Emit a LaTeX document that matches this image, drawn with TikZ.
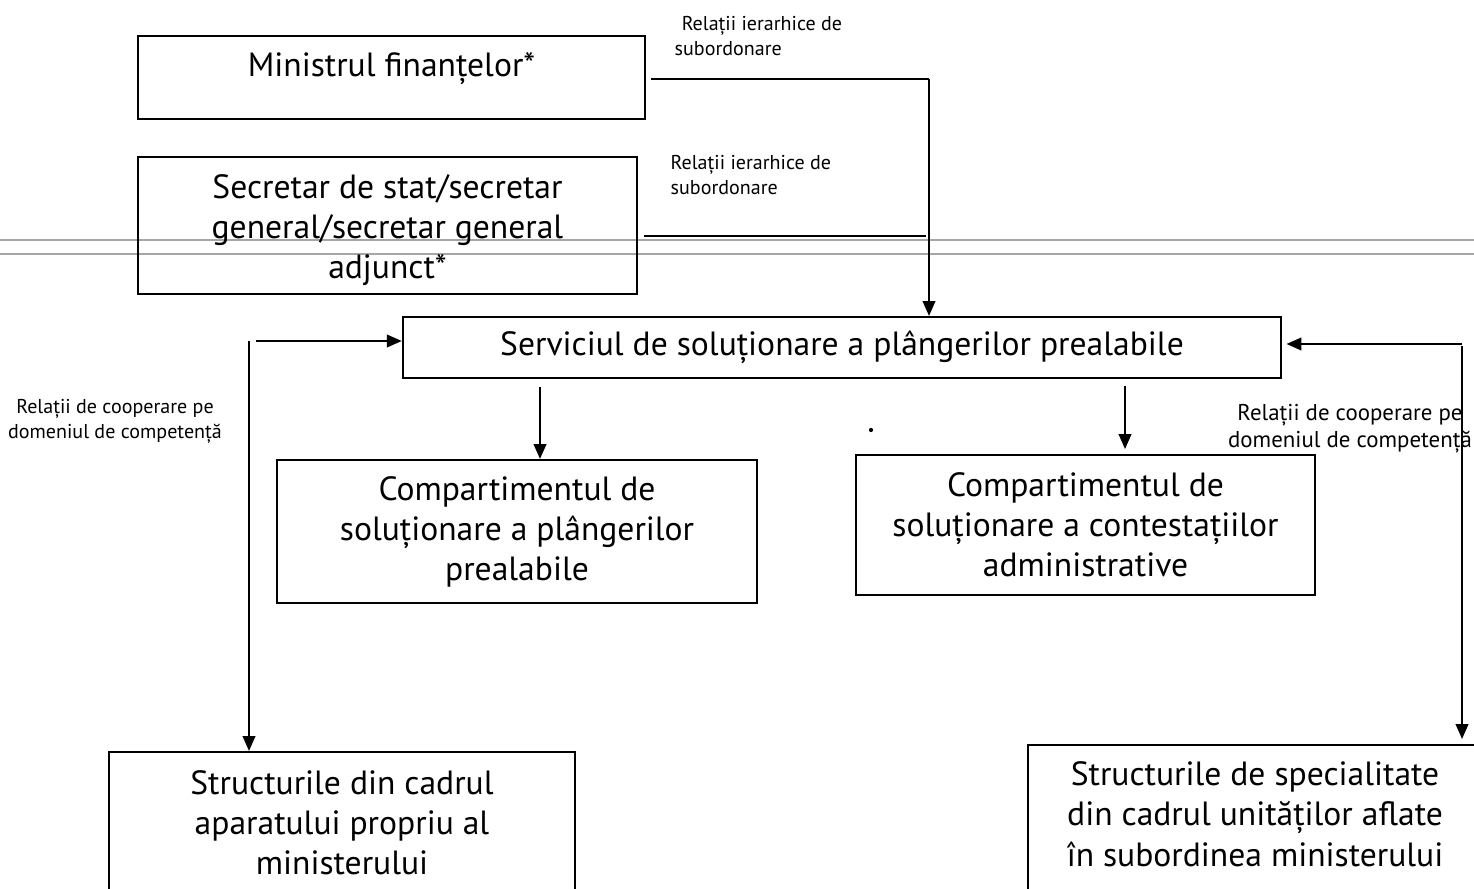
\documentclass[tikz,border=0pt]{standalone}
\usepackage{fontspec}
\setmainfont{PT Sans}
\usetikzlibrary{arrows.meta}
\begin{document}
\begin{tikzpicture}[x=0.01cm,y=-0.01cm,
  box/.style={draw, line width=0.6pt, inner sep=0pt, align=center, font=\fontsize{9.55}{11.4}\selectfont},
  lbl/.style={inner sep=0pt, font=\fontsize{5.7}{7.1}\selectfont},
  arr/.style={line width=0.45pt, -{Triangle[length=4.2pt,width=3.6pt]}},
  lnk/.style={line width=0.45pt}]
\useasboundingbox (0,0) rectangle (1474,889);
\clip (0,0) rectangle (1474,889);
% scan seams
\draw[gray!70, line width=0.4pt] (0,240) -- (1474,240);
\draw[gray!70, line width=0.4pt] (0,254) -- (1474,254);
\fill (871,430) circle (0.6pt);
\node[box, minimum width=5.07cm, minimum height=0.83cm] (min) at (391.5,77.5){\raisebox{2.4pt}[\height][\depth]{Ministrul finanțelor*}};
\node[box, minimum width=4.99cm, minimum height=1.37cm] (sec) at (387.5,225.5){\raisebox{-1.4pt}[\height][\depth]{\begin{tabular}{@{}c@{}}Secretar de stat/secretar\\general/secretar general\\adjunct*\end{tabular}}};
\node[box, minimum width=8.78cm, minimum height=0.61cm] (serv) at (842,347.5){Serviciul de soluționare a plângerilor prealabile};
\node[box, minimum width=4.8cm, minimum height=1.43cm] (cpl) at (517,531.5){Compartimentul de\\soluționare a plângerilor\\prealabile};
\node[box, minimum width=4.59cm, minimum height=1.4cm] (cca) at (1085.5,525){Compartimentul de\\soluționare a contestațiilor\\administrative};
\node[box, minimum width=4.66cm, minimum height=1.42cm] (sap) at (342,823){Structurile din cadrul\\aparatului propriu al\\ministerului};
\node[box, minimum width=4.54cm, minimum height=1.5cm] (sus) at (1255,820){\raisebox{0.6pt}[\height][\depth]{\begin{tabular}{@{}c@{}}Structurile de specialitate\\din cadrul unităților aflate\\în subordinea ministerului\end{tabular}}};
\node[lbl, anchor=north west, align=left] (lab1) at (674,16){\hspace*{2pt}Relații ierarhice de\\subordonare};
\node[lbl, anchor=north west, align=left] (lab2) at (670,155){Relații ierarhice de\\subordonare};
\node[lbl, align=center] (lab3) at (115,421){Relații de cooperare pe\\domeniul de competență};
\node[lbl, align=center, font=\fontsize{6.5}{7.6}\selectfont] (lab4) at (1350,429){Relații de cooperare pe\\domeniul de competență};
\coordinate (join) at (929,79);
\coordinate (lcorner) at (249,341);
\coordinate (rcorner) at (1462,344);
\draw[lnk] ([shift={(5,1.5)}]min.east) -- (join);
\draw[arr] (join) -- (join |- serv.north);
\draw[lnk] ([shift={(6,10.5)}]sec.east) -- ++(282,0);
\draw[arr, shorten <=2.3pt] (serv.south -| 540,0) -- (cpl.north -| 540,0);
\draw[arr, shorten <=2pt, shorten >=1.4pt] (serv.south -| 1125,0) -- (cca.north -| 1125,0);
\draw[arr] ([shift={(7,0)}]lcorner) -- (serv.west |- lcorner);
\draw[arr] (lcorner) -- (lcorner |- sap.north);
\draw[arr, shorten >=1.2pt] (rcorner) -- (serv.east |- rcorner);
\draw[arr, shorten >=1.4pt] ([shift={(0,2)}]rcorner) -- (rcorner |- sus.north);
\end{tikzpicture}
\end{document}
